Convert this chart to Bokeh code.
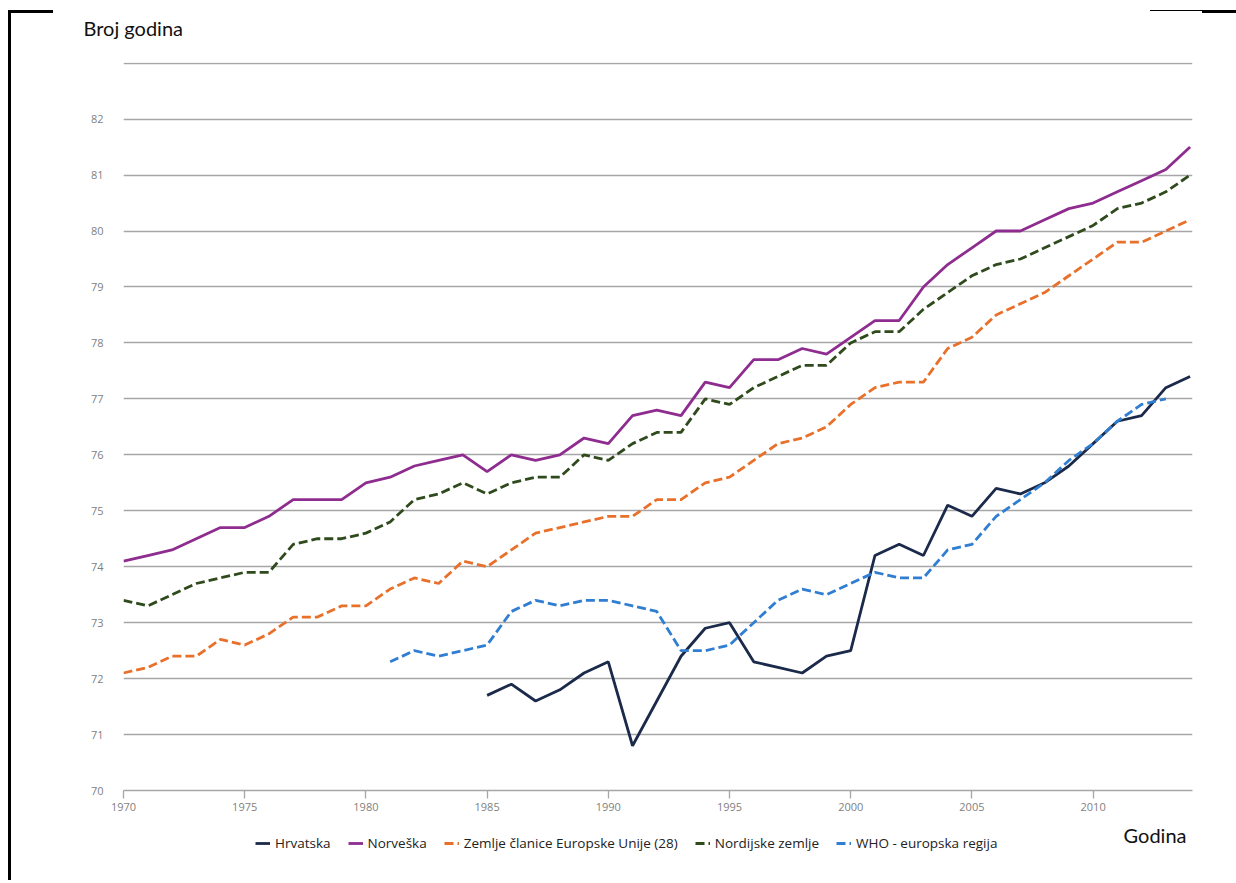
from bokeh.plotting import figure
from bokeh.layouts import column
from bokeh.models import Legend, LegendItem, Title, FixedTicker, Label
from bokeh.embed import file_html
from bokeh.resources import INLINE

years_all = list(range(1970, 2015))
norveska = [74.1, 74.2, 74.3, 74.5, 74.7, 74.7, 74.9, 75.2, 75.2, 75.2,
            75.5, 75.6, 75.8, 75.9, 76.0, 75.7, 76.0, 75.9, 76.0, 76.3,
            76.2, 76.7, 76.8, 76.7, 77.3, 77.2, 77.7, 77.7, 77.9, 77.8,
            78.1, 78.4, 78.4, 79.0, 79.4, 79.7, 80.0, 80.0, 80.2, 80.4,
            80.5, 80.7, 80.9, 81.1, 81.5]
nordijske = [73.4, 73.3, 73.5, 73.7, 73.8, 73.9, 73.9, 74.4, 74.5, 74.5,
             74.6, 74.8, 75.2, 75.3, 75.5, 75.3, 75.5, 75.6, 75.6, 76.0,
             75.9, 76.2, 76.4, 76.4, 77.0, 76.9, 77.2, 77.4, 77.6, 77.6,
             78.0, 78.2, 78.2, 78.6, 78.9, 79.2, 79.4, 79.5, 79.7, 79.9,
             80.1, 80.4, 80.5, 80.7, 81.0]
eu28 = [72.1, 72.2, 72.4, 72.4, 72.7, 72.6, 72.8, 73.1, 73.1, 73.3,
        73.3, 73.6, 73.8, 73.7, 74.1, 74.0, 74.3, 74.6, 74.7, 74.8,
        74.9, 74.9, 75.2, 75.2, 75.5, 75.6, 75.9, 76.2, 76.3, 76.5,
        76.9, 77.2, 77.3, 77.3, 77.9, 78.1, 78.5, 78.7, 78.9, 79.2,
        79.5, 79.8, 79.8, 80.0, 80.2]
years_who = list(range(1981, 2014))
who = [72.3, 72.5, 72.4, 72.5, 72.6, 73.2, 73.4, 73.3, 73.4, 73.4,
       73.3, 73.2, 72.5, 72.5, 72.6, 73.0, 73.4, 73.6, 73.5, 73.7,
       73.9, 73.8, 73.8, 74.3, 74.4, 74.9, 75.2, 75.5, 75.9, 76.2,
       76.6, 76.9, 77.0]
years_hr = list(range(1985, 2015))
hrvatska = [71.7, 71.9, 71.6, 71.8, 72.1, 72.3, 70.8, 71.6, 72.4, 72.9,
            73.0, 72.3, 72.2, 72.1, 72.4, 72.5, 74.2, 74.4, 74.2, 75.1,
            74.9, 75.4, 75.3, 75.5, 75.8, 76.2, 76.6, 76.7, 77.2, 77.4]

series = [
    ("Hrvatska", years_hr, hrvatska, "#1b2a4a", "solid"),
    ("Norveška", years_all, norveska, "#8e2c8f", "solid"),
    ("Zemlje članice Europske Unije (28)", years_all, eu28, "#e8702a", "9 4"),
    ("Nordijske zemlje", years_all, nordijske, "#2f4a1c", "9 4"),
    ("WHO - europska regija", years_who, who, "#2f7ed1", "9 4"),
]

x_ticks = [1970, 1975, 1980, 1985, 1990, 1995, 2000, 2005, 2010]
y_label_ticks = list(range(70, 83))
y_grid_ticks = list(range(70, 84))

FONT = "Open Sans"
TITLE_FONT = "Lato"
GRID = "#a6a6a6"
TICK_COL = "#7f7f7f"
LW = 2.8

# ---- main chart ----
p1 = figure(width=1236, height=815, output_backend="svg", toolbar_location=None,
            x_range=(1970, 2014.1), y_range=(70, 83.012),
            min_border_left=123, min_border_right=44, min_border_top=62,
            min_border_bottom=25, outline_line_color=None,
            border_fill_alpha=0)

p1.xaxis.ticker = FixedTicker(ticks=x_ticks)
p1.yaxis.ticker = FixedTicker(ticks=y_label_ticks)
p1.ygrid.ticker = FixedTicker(ticks=y_grid_ticks)
p1.xgrid.grid_line_color = None
p1.ygrid.grid_line_color = GRID
p1.ygrid.grid_line_width = 1.3
p1.yaxis.axis_line_color = None
p1.yaxis.major_tick_line_color = None
p1.yaxis.minor_tick_line_color = None
p1.yaxis.major_label_standoff = 14
p1.xaxis.axis_line_color = GRID
p1.xaxis.axis_line_width = 1.5
p1.xaxis.major_tick_line_color = GRID
p1.xaxis.major_tick_line_width = 1.3
p1.xaxis.major_tick_out = 8
p1.xaxis.major_tick_in = 0
p1.xaxis.minor_tick_line_color = None
p1.xaxis.major_label_standoff = 4
for ax in (p1.xaxis, p1.yaxis):
    ax.major_label_text_font = FONT
    ax.major_label_text_font_size = "11px"
    ax.major_label_text_color = TICK_COL

for name, xs, ys, col, dash in series:
    p1.line(xs, ys, line_color=col, line_width=LW, line_dash=dash)

# spacer (nearest the frame), then the y-axis heading above it
p1.add_layout(Title(text=" ", standoff=10, text_font_size="10px"), "above")
p1.add_layout(Title(text="Broj godina", align="left", offset=-40, standoff=0,
                    text_font=TITLE_FONT, text_font_size="20px",
                    text_font_style="normal", text_color="#111111"), "above")

# ---- legend strip ----
p2 = figure(width=1236, height=65, output_backend="svg", toolbar_location=None,
            x_range=(123, 1192), y_range=(0, 65), x_axis_type=None,
            y_axis_type=None, min_border_left=123, min_border_right=44,
            min_border_top=0, min_border_bottom=0, outline_line_color=None,
            border_fill_alpha=0, background_fill_alpha=0)
p2.xgrid.visible = False
p2.ygrid.visible = False
items = []
for name, xs, ys, col, dash in series:
    r = p2.line(xs, ys, line_color=col, line_width=LW, line_dash=dash)
    items.append(LegendItem(label=name, renderers=[r]))

legend = Legend(items=items, orientation="horizontal", location=(132, 28),
                border_line_color=None, background_fill_alpha=0,
                label_text_font=FONT, label_text_font_size="13.5px",
                label_text_color="#222222", glyph_width=15, glyph_height=14,
                spacing=17, label_standoff=5, padding=2, margin=0)
p2.add_layout(legend, "center")
p2.add_layout(Label(x=1186, y=46, text="Godina", text_align="right",
                    text_baseline="middle", text_font=TITLE_FONT,
                    text_font_size="20px", text_color="#111111"))

p = column(p1, p2, spacing=0)
p.styles = {"background":
            "linear-gradient(#000,#000) 8px 10px / 45px 3px no-repeat, "
            "linear-gradient(#000,#000) 8px 10px / 3px 880px no-repeat, "
            "linear-gradient(#000,#000) 1150px 10px / 52px 1px no-repeat, "
            "linear-gradient(#000,#000) 1202px 10px / 34px 3px no-repeat, "
            "#ffffff"}

open("out.html", "w").write(file_html(p, INLINE))
